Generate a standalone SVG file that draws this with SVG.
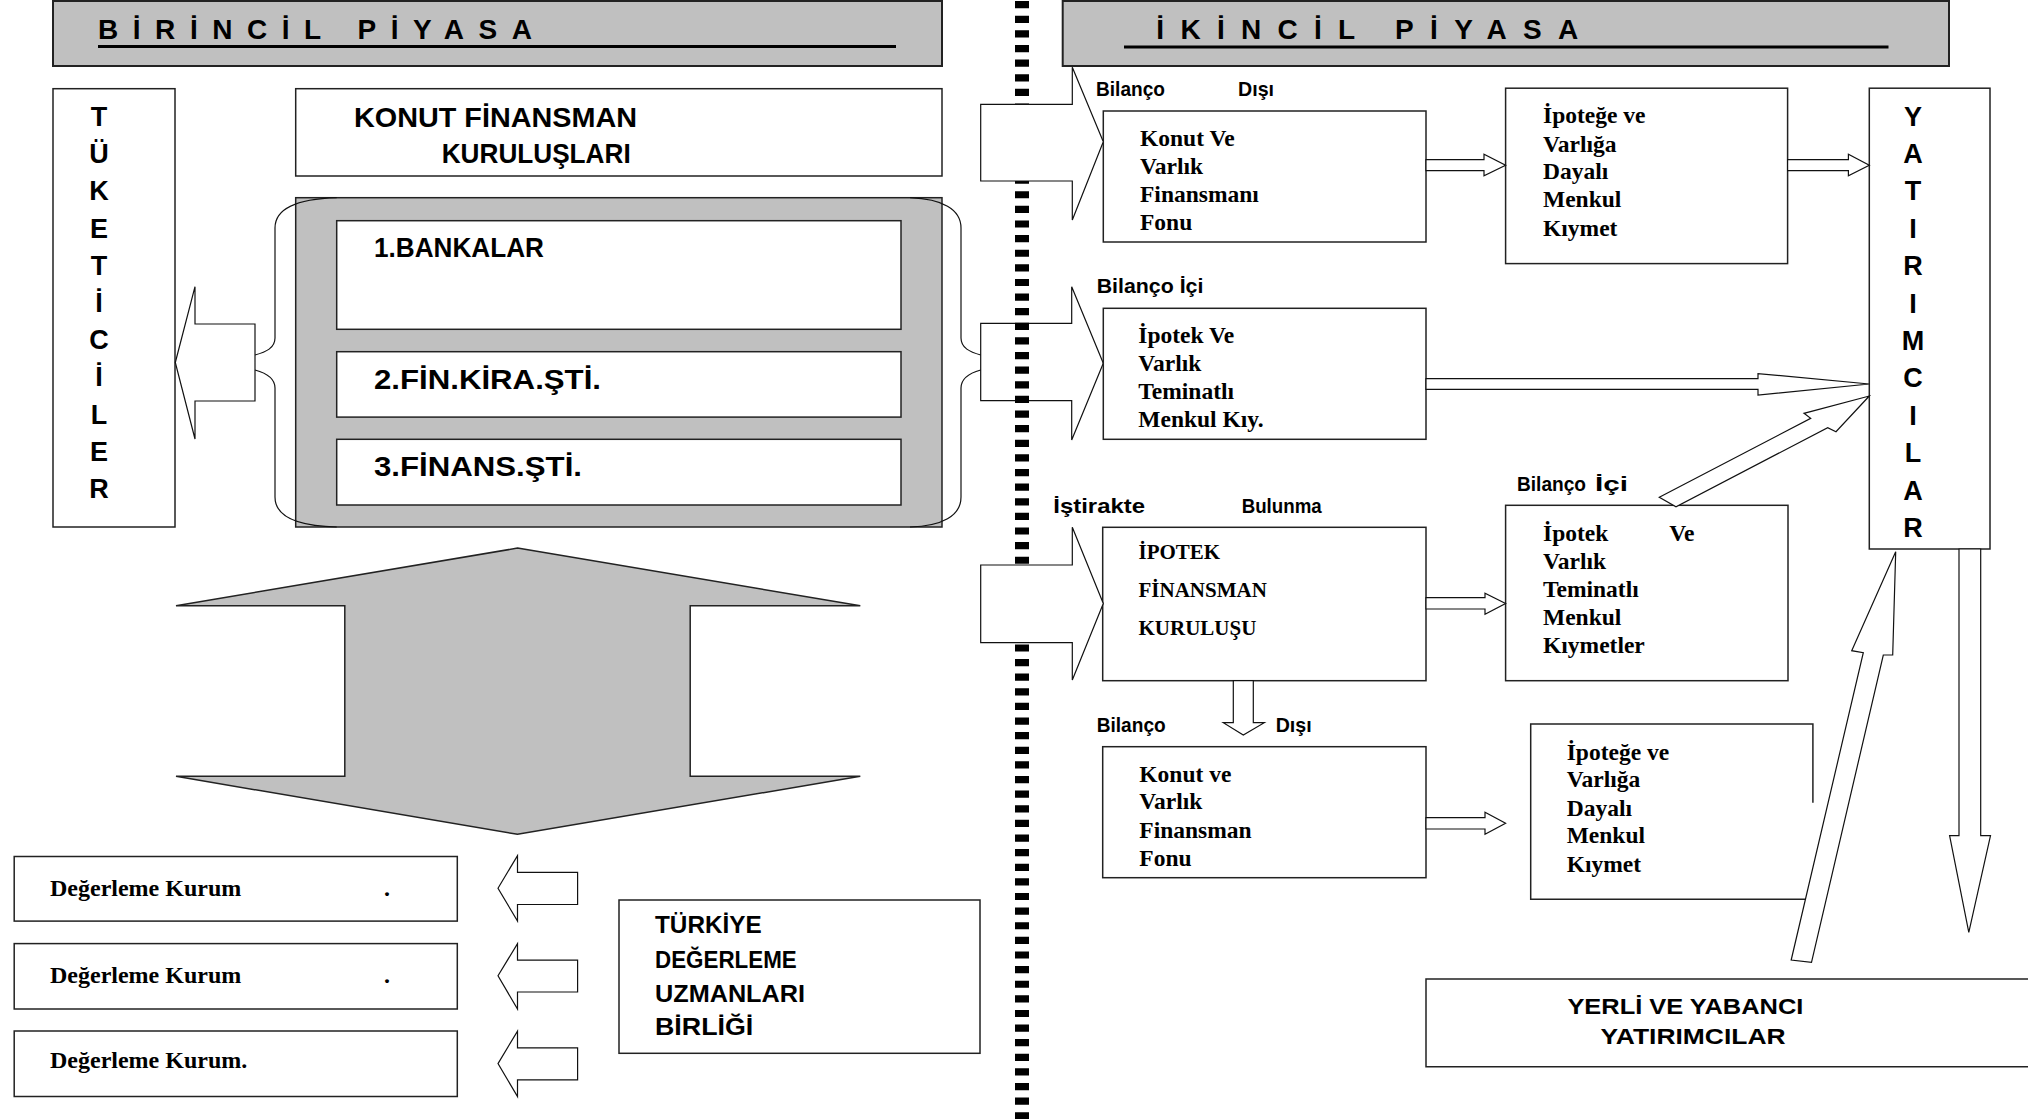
<svg xmlns="http://www.w3.org/2000/svg" width="2028" height="1119" viewBox="0 0 2028 1119">
<style>
.box{fill:#fff;stroke:#222;stroke-width:1.5}
.gray{fill:#c0c0c0;stroke:#222;stroke-width:1.5}
.title{fill:#c0c0c0;stroke:#222;stroke-width:2}
.arr{fill:#fff;stroke:#111;stroke-width:1.2;stroke-linejoin:miter}
.brace{fill:none;stroke:#111;stroke-width:1.2}
.sans{font-family:"Liberation Sans",Arial,sans-serif;font-weight:bold;fill:#000}
.serif{font-family:"Liberation Serif","Times New Roman",serif;font-weight:bold;fill:#000}
.col{font-family:"Liberation Sans",Arial,sans-serif;font-weight:bold;font-size:27px;text-anchor:middle;fill:#000}
</style>
<rect width="2028" height="1119" fill="#fff"/>

<!-- connectors drawn below the dotted divider -->
<g id="connectors-under">
  <polygon class="arr" points="980.7,323.3 1071.7,323.3 1071.7,286.7 1103.3,363.3 1071.7,440 1071.7,400.7 980.7,400.7"/>
</g>

<!-- dotted divider -->
<g id="divider">
  <path d="M1022 1.1 V1119" stroke="#000" stroke-width="14" stroke-dasharray="7.2 7.42" fill="none"/>
</g>

<!-- Left: primary market -->
<g id="title-birincil">
  <rect class="title" x="53" y="1" width="889" height="65"/>
  <text class="sans" x="98" y="38.6" font-size="28" textLength="434" lengthAdjust="spacing">BİRİNCİL PİYASA</text>
  <line x1="98" y1="46.5" x2="896" y2="46.5" stroke="#000" stroke-width="3"/>
</g>

<g id="tuketiciler">
  <rect class="box" x="53" y="88.7" width="122" height="438.3"/>
  <text class="col">
    <tspan x="99" y="126">T</tspan><tspan x="99" y="163.2">Ü</tspan><tspan x="99" y="200.4">K</tspan><tspan x="99" y="237.6">E</tspan><tspan x="99" y="274.8">T</tspan><tspan x="99" y="312">İ</tspan><tspan x="99" y="349.2">C</tspan><tspan x="99" y="386.4">İ</tspan><tspan x="99" y="423.6">L</tspan><tspan x="99" y="460.8">E</tspan><tspan x="99" y="498">R</tspan>
  </text>
</g>

<g id="konut-finansman-kuruluslari">
  <rect class="box" x="295.7" y="88.7" width="646.3" height="87.3"/>
  <text class="sans" x="354" y="126.7" font-size="28" textLength="283" lengthAdjust="spacingAndGlyphs">KONUT FİNANSMAN</text>
  <text class="sans" x="441.7" y="163" font-size="28" textLength="189" lengthAdjust="spacingAndGlyphs">KURULUŞLARI</text>
</g>

<g id="kurum-grubu">
  <rect class="gray" x="295.7" y="197.7" width="646.3" height="329.3"/>
  <path class="brace" d="M336.7,197.7 C297,199 275,209 275,228 L275,338 C275,348 266,352 255,355 M255,370 C266,373 275,378 275,388 L275,497 C275,516 297,526 336.7,527"/>
  <path class="brace" d="M910,197.7 C942,199 961,209 961,228 L961,338 C961,348 970,352 980.7,355 M980.7,370 C970,373 961,378 961,388 L961,497 C961,516 942,526 910,527"/>
</g>

<g id="bankalar">
  <rect class="box" x="336.7" y="220.7" width="564.3" height="108.6"/>
  <text class="sans" x="374" y="256.7" font-size="28" textLength="170" lengthAdjust="spacingAndGlyphs">1.BANKALAR</text>
</g>
<g id="fin-kira">
  <rect class="box" x="336.7" y="351.7" width="564.3" height="65.4"/>
  <text class="sans" x="374" y="389" font-size="28" textLength="227" lengthAdjust="spacingAndGlyphs">2.FİN.KİRA.ŞTİ.</text>
</g>
<g id="finans-sti">
  <rect class="box" x="336.7" y="439.3" width="564.3" height="65.7"/>
  <text class="sans" x="374" y="476" font-size="28" textLength="208" lengthAdjust="spacingAndGlyphs">3.FİNANS.ŞTİ.</text>
</g>

<g id="degerleme-1">
  <rect class="box" x="14.2" y="856.5" width="443.1" height="64.6"/>
  <text class="serif" x="50" y="896" font-size="24">Değerleme Kurum<tspan x="384">.</tspan></text>
</g>
<g id="degerleme-2">
  <rect class="box" x="14.2" y="943.6" width="443.1" height="65.4"/>
  <text class="serif" x="50" y="983" font-size="24">Değerleme Kurum<tspan x="384">.</tspan></text>
</g>
<g id="degerleme-3">
  <rect class="box" x="14.2" y="1031" width="443.1" height="65.5"/>
  <text class="serif" x="50" y="1068" font-size="24">Değerleme Kurum.</text>
</g>

<g id="tdub">
  <rect class="box" x="619" y="900" width="361" height="153.3"/>
  <text class="sans" x="655" y="933.3" font-size="23" textLength="106.7" lengthAdjust="spacingAndGlyphs">TÜRKİYE</text>
  <text class="sans" x="655" y="967.6" font-size="23" textLength="141.7" lengthAdjust="spacingAndGlyphs">DEĞERLEME</text>
  <text class="sans" x="655" y="1001.6" font-size="23" textLength="150" lengthAdjust="spacingAndGlyphs">UZMANLARI</text>
  <text class="sans" x="655" y="1034.8" font-size="23" textLength="98.3" lengthAdjust="spacingAndGlyphs">BİRLİĞİ</text>
</g>

<!-- Right: secondary market -->
<g id="title-ikincil">
  <rect class="title" x="1062.7" y="1" width="886.3" height="65"/>
  <text class="sans" x="1156.3" y="38.6" font-size="28" textLength="422" lengthAdjust="spacing">İKİNCİL PİYASA</text>
  <line x1="1124" y1="47" x2="1888.5" y2="47" stroke="#000" stroke-width="3"/>
</g>

<g id="labels">
  <text class="sans" x="1096" y="96" font-size="21"><tspan textLength="69" lengthAdjust="spacingAndGlyphs">Bilanço</tspan><tspan x="1238" textLength="36" lengthAdjust="spacingAndGlyphs">Dışı</tspan></text>
  <text class="sans" x="1096.7" y="293" font-size="21" textLength="106.7" lengthAdjust="spacingAndGlyphs">Bilanço İçi</text>
  <text class="sans" x="1053.3" y="513.3" font-size="21"><tspan textLength="91.7" lengthAdjust="spacingAndGlyphs">İştirakte</tspan><tspan x="1241.7" textLength="80" lengthAdjust="spacingAndGlyphs">Bulunma</tspan></text>
  <text class="sans" x="1517" y="491" font-size="21"><tspan textLength="69" lengthAdjust="spacingAndGlyphs">Bilanço</tspan><tspan x="1595" textLength="33" lengthAdjust="spacingAndGlyphs">İçi</tspan></text>
  <text class="sans" x="1096.7" y="731.7" font-size="21"><tspan textLength="69" lengthAdjust="spacingAndGlyphs">Bilanço</tspan><tspan x="1275.7" textLength="36" lengthAdjust="spacingAndGlyphs">Dışı</tspan></text>
</g>

<g id="konut-varlik-fonu-1">
  <rect class="box" x="1103.3" y="111" width="322.7" height="131"/>
  <text class="serif" font-size="23.5"><tspan x="1140" y="146">Konut Ve</tspan><tspan x="1140" y="174">Varlık</tspan><tspan x="1140" y="202.3">Finansmanı</tspan><tspan x="1140" y="230">Fonu</tspan></text>
</g>

<g id="ipotege-dayali-1">
  <rect class="box" x="1505.6" y="88.2" width="282" height="175.4"/>
  <text class="serif" font-size="23.5"><tspan x="1543" y="123.2">İpoteğe ve</tspan><tspan x="1543" y="151.6">Varlığa</tspan><tspan x="1543" y="179">Dayalı</tspan><tspan x="1543" y="207.3">Menkul</tspan><tspan x="1543" y="235.7">Kıymet</tspan></text>
</g>

<g id="yatirimcilar">
  <rect class="box" x="1869.3" y="88.2" width="120.7" height="460.8"/>
  <text class="col">
    <tspan x="1913" y="125.6">Y</tspan><tspan x="1913" y="163">A</tspan><tspan x="1913" y="200.4">T</tspan><tspan x="1913" y="237.8">I</tspan><tspan x="1913" y="275.2">R</tspan><tspan x="1913" y="312.6">I</tspan><tspan x="1913" y="350">M</tspan><tspan x="1913" y="387.4">C</tspan><tspan x="1913" y="424.8">I</tspan><tspan x="1913" y="462.2">L</tspan><tspan x="1913" y="499.6">A</tspan><tspan x="1913" y="537">R</tspan>
  </text>
</g>

<g id="ipotek-teminatli-1">
  <rect class="box" x="1103.3" y="308.3" width="322.7" height="131"/>
  <text class="serif" font-size="23.5"><tspan x="1138.3" y="342.7">İpotek Ve</tspan><tspan x="1138.3" y="371">Varlık</tspan><tspan x="1138.3" y="399.3">Teminatlı</tspan><tspan x="1138.3" y="426.7">Menkul Kıy.</tspan></text>
</g>

<g id="ipotek-finansman-kurulusu">
  <rect class="box" x="1102.7" y="527.3" width="323.3" height="153.4"/>
  <text class="serif" font-size="21"><tspan x="1138.5" y="559.3">İPOTEK</tspan><tspan x="1138.5" y="597.3">FİNANSMAN</tspan><tspan x="1138.5" y="635">KURULUŞU</tspan></text>
</g>

<g id="ipotek-teminatli-2">
  <rect class="box" x="1505.6" y="505.3" width="282.4" height="175.4"/>
  <text class="serif" font-size="23.5"><tspan x="1543" y="541">İpotek</tspan><tspan x="1669.3" y="541">Ve</tspan><tspan x="1543" y="569">Varlık</tspan><tspan x="1543" y="597">Teminatlı</tspan><tspan x="1543" y="625">Menkul</tspan><tspan x="1543" y="653.3">Kıymetler</tspan></text>
</g>

<g id="konut-varlik-fonu-2">
  <rect class="box" x="1102.7" y="746.7" width="323.3" height="131"/>
  <text class="serif" font-size="23.5"><tspan x="1139.3" y="781.7">Konut ve</tspan><tspan x="1139.3" y="809.3">Varlık</tspan><tspan x="1139.3" y="837.7">Finansman</tspan><tspan x="1139.3" y="865.7">Fonu</tspan></text>
</g>

<g id="ipotege-dayali-2">
  <path d="M1812.9,802.7 V724 H1530.7 V899.3 H1812.9 V870" fill="#fff" stroke="#222" stroke-width="1.5"/>
  <text class="serif" font-size="23.5"><tspan x="1566.7" y="760">İpoteğe ve</tspan><tspan x="1566.7" y="787.3">Varlığa</tspan><tspan x="1566.7" y="815.7">Dayalı</tspan><tspan x="1566.7" y="843.3">Menkul</tspan><tspan x="1566.7" y="871.7">Kıymet</tspan></text>
</g>

<g id="yerli-yabanci">
  <path d="M2030,979 H1426 V1066.7 H2030" fill="#fff" stroke="#222" stroke-width="1.5"/>
  <text class="sans" x="1567.4" y="1014.3" font-size="22" textLength="236" lengthAdjust="spacingAndGlyphs">YERLİ VE YABANCI</text>
  <text class="sans" x="1600.6" y="1044.3" font-size="22" textLength="185" lengthAdjust="spacingAndGlyphs">YATIRIMCILAR</text>
</g>

<!-- connectors -->
<g id="connectors">
  <!-- big double arrow -->
  <polygon class="gray" points="517.5,548.1 860.3,605.7 690.2,605.7 690.2,776.3 860.3,776.3 517.5,834.3 176,776.3 344.8,776.3 344.8,605.7 176,605.7"/>
  <!-- to tuketiciler -->
  <polygon class="arr" points="175.3,362.5 195,286.7 195,324 255,324 255,401 195,401 195,439"/>
  <!-- to degerleme kurumlari -->
  <polygon class="arr" points="498,888.2 517.5,855.7 517.5,872.3 577.6,872.3 577.6,904.5 517.5,904.5 517.5,921.1"/>
  <polygon class="arr" points="498,975.8 517.5,943.6 517.5,960.2 577.6,960.2 577.6,992 517.5,992 517.5,1009"/>
  <polygon class="arr" points="498,1063.6 517.5,1031.1 517.5,1047.8 577.6,1047.8 577.6,1079.9 517.5,1079.9 517.5,1096.5"/>
  <!-- block arrows over divider -->
  <polygon class="arr" points="980.7,104.3 1072.3,104.3 1072.3,67.3 1103.3,141.7 1072.3,220 1072.3,181 980.7,181"/>
  <polygon class="arr" points="980.7,565 1072.3,565 1072.3,527.3 1103.3,603.5 1072.3,680 1072.3,642.7 980.7,642.7"/>
  <!-- hollow arrows -->
  <polygon class="arr" points="1426,159.6 1484,159.6 1484,154.3 1505.6,165.2 1484,175.7 1484,170.7 1426,170.7"/>
  <polygon class="arr" points="1787.6,159.6 1848.4,159.6 1848.4,154.3 1869.3,165.2 1848.4,175.7 1848.4,170.7 1787.6,170.7"/>
  <polygon class="arr" points="1426,378.6 1758,378.6 1758,373.6 1869.3,384 1758,395 1758,389.3 1426,389.3"/>
  <polygon class="arr" points="1426,597.7 1485,597.7 1485,593.3 1505.6,603.5 1485,614.3 1485,609 1426,609"/>
  <polygon class="arr" points="1426,817.7 1485,817.7 1485,812.3 1505.6,823.3 1485,834.3 1485,829 1426,829"/>
  <polygon class="arr" points="1233.3,680.7 1233.3,722.7 1223.3,722.7 1243.3,735 1264.3,722.7 1253.3,722.7 1253.3,680.7"/>
  <polygon class="arr" points="1659.3,497.3 1810.7,418.3 1804,413.3 1869.3,396 1836,431.7 1827.7,427.7 1676,506.7"/>
  <polygon class="arr" points="1791.2,960 1863.3,652.7 1851.7,650.7 1895.7,551.7 1892.7,655 1883.3,655 1811.5,962.3"/>
  <polygon class="arr" points="1959,549 1959,835.7 1949.6,835.7 1968.8,932.3 1990.5,835.7 1980.7,835.7 1980.7,549"/>
</g>
</svg>
